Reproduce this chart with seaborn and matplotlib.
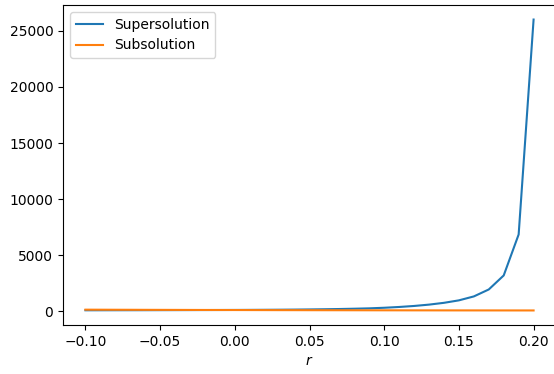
import matplotlib
matplotlib.use("Agg")
import matplotlib.pyplot as plt
import seaborn as sns
import pandas as pd

r = [-0.10, -0.09, -0.08, -0.07, -0.06, -0.05, -0.04, -0.03, -0.02, -0.01,
     0.00, 0.01, 0.02, 0.03, 0.04, 0.05, 0.06, 0.07, 0.08, 0.09,
     0.10, 0.11, 0.12, 0.13, 0.14, 0.15, 0.16, 0.17, 0.18, 0.19, 0.20]
supersolution = [95, 97, 99, 101, 103, 106, 109, 112, 116, 120,
                 125, 131, 138, 146, 156, 170, 187, 208, 235, 268,
                 320, 390, 480, 600, 760, 980, 1330, 1950, 3200, 6850, 26000]
subsolution = [150, 146, 142, 139, 135, 132, 129, 126, 123, 120,
               117, 114, 111, 108, 106, 103, 101, 99, 97, 95,
               93, 91, 89, 88, 86, 85, 84, 83, 82, 81, 80]

df = pd.DataFrame({
    "r": r * 2,
    "value": supersolution + subsolution,
    "series": ["Supersolution"] * len(r) + ["Subsolution"] * len(r),
})

fig = plt.figure(figsize=(5.54, 3.74), dpi=100)
ax = fig.add_axes([63 / 554, 1 - 325 / 374, (556 - 63) / 554, (325 - 5) / 374])
sns.lineplot(data=df, x="r", y="value", hue="series",
             palette=["#1f77b4", "#ff7f0e"], ax=ax)
ax.set_xlabel("$r$")
ax.set_ylabel("")
ax.set_xticks([-0.10, -0.05, 0.00, 0.05, 0.10, 0.15, 0.20])
ax.set_yticks([0, 5000, 10000, 15000, 20000, 25000])
ax.legend(loc="upper left", title=None)
fig.savefig("out.png", dpi=100)
